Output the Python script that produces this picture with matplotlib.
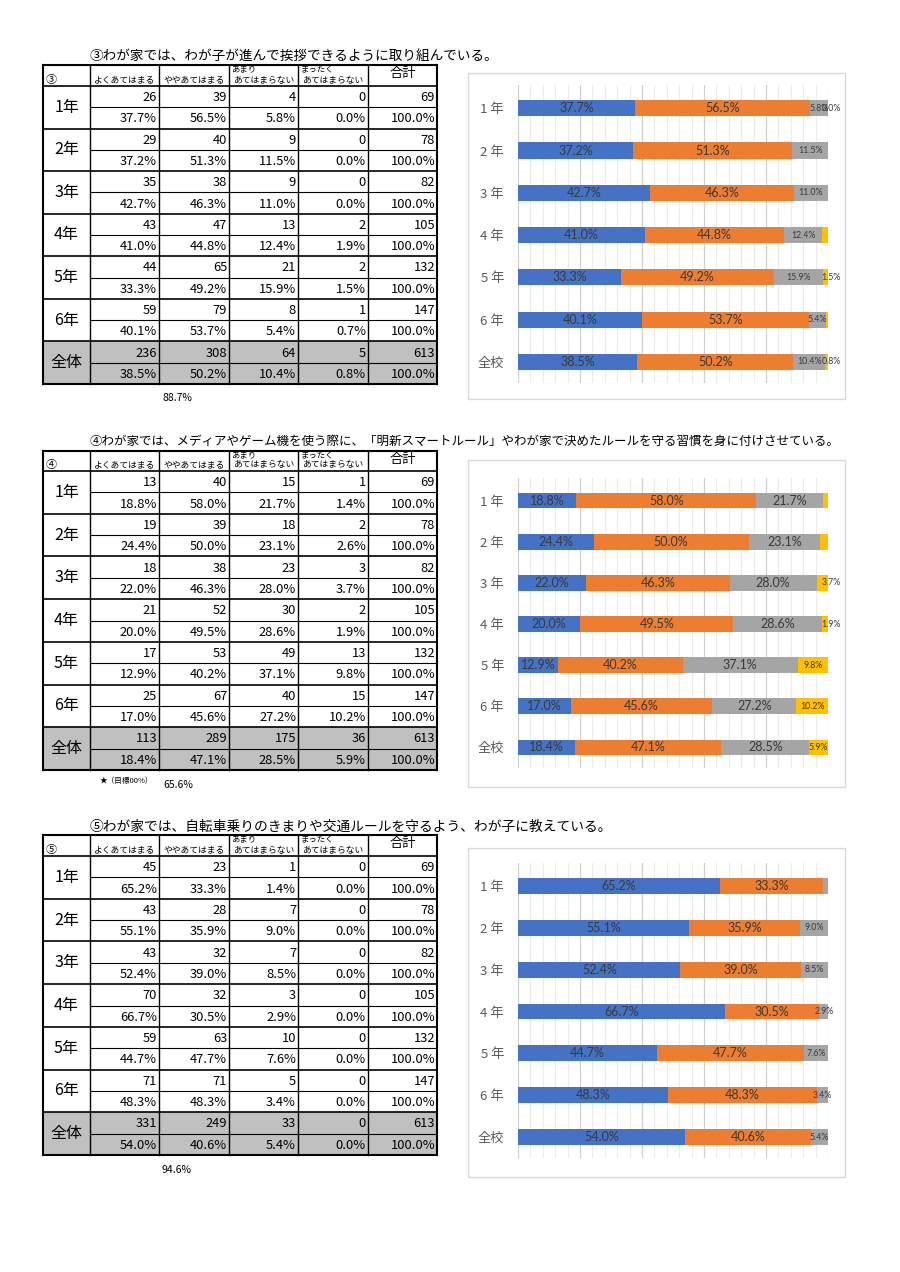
import matplotlib
matplotlib.use("Agg")
import matplotlib.pyplot as plt
from matplotlib.patches import Rectangle
from matplotlib.ticker import MultipleLocator

plt.rcParams['font.family'] = ['Noto Sans CJK JP', 'DejaVu Sans']

# ---- data -------------------------------------------------------------
grades_table = ["1年", "2年", "3年", "4年", "5年", "6年", "全体"]
grades_chart = ["1 年", "2 年", "3 年", "4 年", "5 年", "6 年", "全校"]
answers = ["よくあてはまる", "ややあてはまる", "あまり\nあてはまらない", "まったく\nあてはまらない"]
series_colors = ["#4472C4", "#ED7D31", "#A5A5A5", "#FFC000"]

titles = [
    "③わが家では、わが子が進んで挨拶できるように取り組んでいる。",
    "④わが家では、メディアやゲーム機を使う際に、「明新スマートルール」やわが家で決めたルールを守る習慣を身に付けさせている。",
    "⑤わが家では、自転車乗りのきまりや交通ルールを守るよう、わが子に教えている。",
]
marks = ["③", "④", "⑤"]

counts_3 = [[26, 39, 4, 0], [29, 40, 9, 0], [35, 38, 9, 0], [43, 47, 13, 2],
            [44, 65, 21, 2], [59, 79, 8, 1], [236, 308, 64, 5]]
pct_3 = [[37.7, 56.5, 5.8, 0.0], [37.2, 51.3, 11.5, 0.0], [42.7, 46.3, 11.0, 0.0],
         [41.0, 44.8, 12.4, 1.9], [33.3, 49.2, 15.9, 1.5], [40.1, 53.7, 5.4, 0.7],
         [38.5, 50.2, 10.4, 0.8]]

counts_4 = [[13, 40, 15, 1], [19, 39, 18, 2], [18, 38, 23, 3], [21, 52, 30, 2],
            [17, 53, 49, 13], [25, 67, 40, 15], [113, 289, 175, 36]]
pct_4 = [[18.8, 58.0, 21.7, 1.4], [24.4, 50.0, 23.1, 2.6], [22.0, 46.3, 28.0, 3.7],
         [20.0, 49.5, 28.6, 1.9], [12.9, 40.2, 37.1, 9.8], [17.0, 45.6, 27.2, 10.2],
         [18.4, 47.1, 28.5, 5.9]]

counts_5 = [[45, 23, 1, 0], [43, 28, 7, 0], [43, 32, 7, 0], [70, 32, 3, 0],
            [59, 63, 10, 0], [71, 71, 5, 0], [331, 249, 33, 0]]
pct_5 = [[65.2, 33.3, 1.4, 0.0], [55.1, 35.9, 9.0, 0.0], [52.4, 39.0, 8.5, 0.0],
         [66.7, 30.5, 2.9, 0.0], [44.7, 47.7, 7.6, 0.0], [48.3, 48.3, 3.4, 0.0],
         [54.0, 40.6, 5.4, 0.0]]

totals = [69, 78, 82, 105, 132, 147, 613]
notes = ["88.7%", "65.6%", "94.6%"]
star_note = "★（目標00%）"

# data labels Excel left out (row, series)
hidden_3 = {(1, 3), (2, 3), (3, 3), (5, 3)}
hidden_4 = {(0, 3), (1, 3)}
hidden_5 = {(0, 2)} | {(r, 3) for r in range(7)}

# ---- layout (page pixels) ---------------------------------------------
W, H = 900, 1272
col_x = [43, 90, 159, 229, 298, 368, 437]
sections = [
    dict(title_y=56, top=65, hdr=86, bottom=384, frame=(468, 73, 845, 399),
         plot=(85, 383), note=(177, 398)),
    dict(title_y=441, top=451, hdr=471, bottom=770, frame=(468, 460, 845, 787),
         plot=(478, 768), note=(178, 785)),
    dict(title_y=827, top=835, hdr=856, bottom=1155, frame=(468, 848, 845, 1177),
         plot=(863, 1158), note=(177, 1170)),
]
plot_x = (518, 828)

fig = plt.figure(figsize=(9, 12.72), dpi=100)
pg = fig.add_axes([0, 0, 1, 1])
pg.set_xlim(0, W)
pg.set_ylim(H, 0)
pg.axis("off")


def draw_table(sec, mark, counts, pcts):
    top, hdr, bottom = sec["top"], sec["hdr"], sec["bottom"]
    rh = (bottom - hdr) / 14.0
    x0, x1 = col_x[0], col_x[-1]

    # gray fill for the whole-school rows
    pg.add_patch(Rectangle((x0, hdr + 12 * rh), x1 - x0, 2 * rh,
                           facecolor="#C0C0C0", edgecolor="none", zorder=1))

    # lines
    for x in col_x:
        lw = 1.5 if x in (x0, x1) else 1.0
        pg.plot([x, x], [top, bottom], color="black", lw=lw, zorder=3)
    pg.plot([x0, x1], [top, top], color="black", lw=1.5, zorder=3)
    pg.plot([x0, x1], [bottom, bottom], color="black", lw=1.5, zorder=3)
    pg.plot([x0, x1], [hdr, hdr], color="black", lw=1.2, zorder=3)
    for g in range(7):
        ytop = hdr + 2 * g * rh
        if g > 0:
            pg.plot([x0, x1], [ytop, ytop], color="black", lw=1.2, zorder=3)
        pg.plot([col_x[1], x1], [ytop + rh, ytop + rh], color="black", lw=0.8, zorder=3)

    # header
    pg.text(col_x[0] + 3, hdr - 6, mark, fontsize=8, va="center", ha="left")
    for j, lab in enumerate(answers):
        cx = (col_x[j + 1] + col_x[j + 2]) / 2
        if "\n" in lab:
            a, b = lab.split("\n")
            pg.text(col_x[j + 1] + 2, top + 3.5, a, fontsize=6, va="center", ha="left")
            pg.text(cx, hdr - 6, b, fontsize=6.3, va="center", ha="center")
        else:
            pg.text(cx, hdr - 6, lab, fontsize=6.3, va="center", ha="center")
    pg.text((col_x[5] + col_x[6]) / 2, top + 9, "合計", fontsize=9.5,
            va="center", ha="center")

    # body
    for g in range(7):
        ytop = hdr + 2 * g * rh
        pg.text((col_x[0] + col_x[1]) / 2, ytop + rh, grades_table[g],
                fontsize=11.5, va="center", ha="center")
        row_c = list(counts[g]) + [totals[g]]
        row_p = ["%.1f%%" % v for v in pcts[g]] + ["100.0%"]
        for j in range(5):
            xr = col_x[j + 2] - 2
            pg.text(xr, ytop + rh / 2 + 1, str(row_c[j]), fontsize=9.3,
                    va="center", ha="right", zorder=4)
            pg.text(xr, ytop + 1.5 * rh + 1, row_p[j], fontsize=9.3,
                    va="center", ha="right", zorder=4)


def draw_chart(sec, pcts, hidden):
    fx0, fy0, fx1, fy1 = sec["frame"]
    pg.add_patch(Rectangle((fx0, fy0), fx1 - fx0, fy1 - fy0, facecolor="white",
                           edgecolor="#D9D9D9", lw=1.0, zorder=1))
    py0, py1 = sec["plot"]
    ax = fig.add_axes([plot_x[0] / W, 1 - py1 / H,
                       (plot_x[1] - plot_x[0]) / W, (py1 - py0) / H])
    ax.set_facecolor("none")
    ypos = list(range(len(grades_chart)))
    left = [0.0] * len(ypos)
    for s in range(4):
        vals = [row[s] for row in pcts]
        ax.barh(ypos, vals, left=left, height=0.38, color=series_colors[s], zorder=3)
        for r, v in enumerate(vals):
            if (r, s) in hidden:
                continue
            small = s >= 2 and v < 20
            xc = left[r] + v / 2
            if s == 3 and v < 5:
                # tiny last segments: label pushed just past the bar end
                xc = max(xc, 101.0)
            ax.text(xc, r, "%.1f%%" % v, ha="center", va="center",
                    fontsize=6.3 if small else 9, color="#3A3A3A",
                    family=["Lato", "DejaVu Sans"], zorder=4, clip_on=False)
        left = [a + b for a, b in zip(left, vals)]

    ax.set_xlim(0, 100)
    ax.set_ylim(6.5, -0.55)
    ax.xaxis.set_major_locator(MultipleLocator(20))
    ax.xaxis.set_minor_locator(MultipleLocator(4))
    ax.grid(which="major", axis="x", color="#D0D0D0", lw=0.9, zorder=0)
    ax.grid(which="minor", axis="x", color="#EBEBEB", lw=0.8, zorder=0)
    ax.set_axisbelow(True)
    ax.set_xticklabels([])
    ax.tick_params(axis="x", which="both", length=0)
    ax.set_yticks(ypos)
    ax.set_yticklabels(grades_chart, fontsize=9.5, color="#595959")
    ax.tick_params(axis="y", length=0, pad=10)
    for sp in ax.spines.values():
        sp.set_visible(False)


all_counts = [counts_3, counts_4, counts_5]
all_pcts = [pct_3, pct_4, pct_5]
all_hidden = [hidden_3, hidden_4, hidden_5]
title_sizes = [9.8, 9.0, 9.9]

for i, sec in enumerate(sections):
    pg.text(90, sec["title_y"], titles[i], fontsize=title_sizes[i], va="center", ha="left")
    draw_table(sec, marks[i], all_counts[i], all_pcts[i])
    draw_chart(sec, all_pcts[i], all_hidden[i])
    nx, ny = sec["note"]
    pg.text(nx, ny, notes[i], fontsize=7.5, va="center", ha="center")

# star note under the second table
pg.text(100, 781, star_note, fontsize=5.5, va="center", ha="left")

fig.savefig("out.png", dpi=100)
